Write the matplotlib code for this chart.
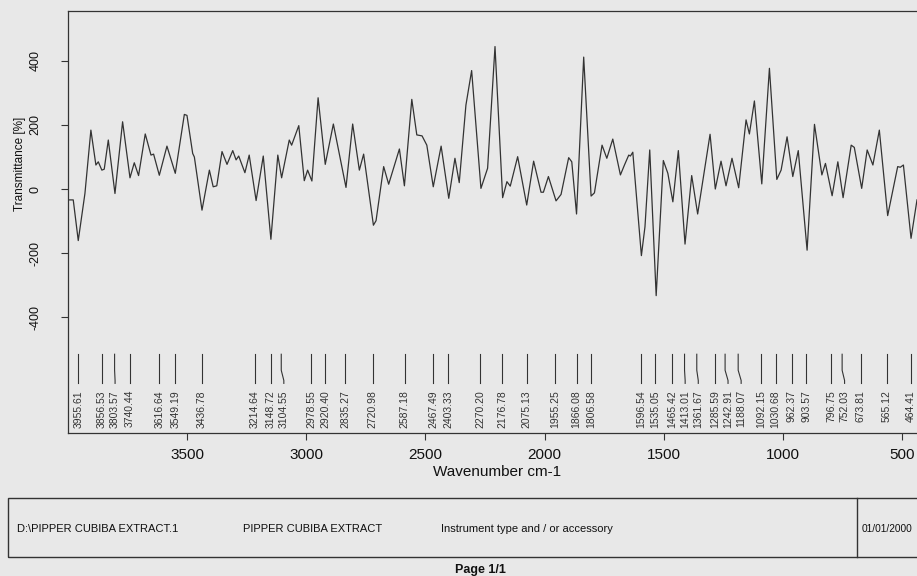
import matplotlib
matplotlib.use('Agg')
import matplotlib.pyplot as plt
from matplotlib.patches import Rectangle

plt.rcParams['font.family'] = ['Liberation Sans', 'DejaVu Sans']

# espectro (numero de onda, transmitancia)
wavenumber = [4000, 3977, 3956, 3940, 3928, 3903, 3882, 3872, 3857, 3847,
              3830, 3802, 3770, 3739, 3721, 3703, 3675, 3651, 3640, 3616,
              3584, 3549, 3511, 3500, 3476, 3469, 3437, 3406, 3390, 3375,
              3353, 3332, 3308, 3294, 3283, 3257, 3239, 3210, 3180, 3148,
              3119, 3103, 3071, 3061, 3031, 3008, 2994, 2976, 2950, 2920,
              2886, 2833, 2805, 2777, 2759, 2718, 2707, 2675, 2654, 2609,
              2588, 2557, 2536, 2514, 2494, 2467, 2434, 2402, 2376, 2358,
              2330, 2306, 2267, 2239, 2208, 2176, 2158, 2144, 2113, 2075,
              2046, 2015, 2005, 1984, 1952, 1931, 1899, 1886, 1866, 1836,
              1805, 1791, 1759, 1739, 1714, 1682, 1665, 1647, 1640, 1630,
              1594, 1579, 1559, 1532, 1502, 1483, 1462, 1439, 1411, 1383,
              1358, 1306, 1284, 1260, 1239, 1214, 1186, 1155, 1141, 1120,
              1089, 1057, 1026, 1008, 983, 959, 936, 899, 868, 837,
              822, 794, 770, 748, 714, 701, 670, 647, 623, 596,
              561, 519, 508, 495, 463, 438]
transmittance = [-34, -34, -161, -76, -14, 184, 75, 85, 59, 62,
                 153, -14, 210, 35, 82, 42, 172, 106, 109, 43,
                 134, 49, 233, 230, 111, 100, -66, 59, 7, 10,
                 117, 77, 120, 91, 103, 51, 106, -36, 103, -157,
                 106, 35, 153, 137, 198, 26, 59, 25, 285, 77,
                 203, 5, 203, 59, 109, -113, -99, 70, 15, 125,
                 10, 280, 169, 166, 137, 7, 134, -29, 96, 20,
                 262, 370, 2, 65, 445, -27, 23, 9, 101, -50,
                 87, -10, -10, 39, -37, -17, 98, 85, -78, 412,
                 -22, -12, 137, 96, 156, 44, 75, 106, 103, 115,
                 -208, -118, 122, -333, 89, 49, -40, 120, -172, 42,
                 -78, 171, 0, 87, 10, 96, 4, 216, 172, 275,
                 16, 377, 30, 59, 163, 39, 120, -191, 202, 44,
                 80, -21, 85, -27, 137, 130, 2, 122, 75, 184,
                 -83, 70, 68, 75, -154, -34]

# picos marcados
peaks = [3955.61, 3856.53, 3803.57, 3740.44, 3616.64, 3549.19, 3436.78,
         3214.64, 3148.72, 3104.55, 2978.55, 2920.40, 2835.27, 2720.98,
         2587.18, 2467.49, 2403.33, 2270.20, 2176.78, 2075.13, 1955.25,
         1866.08, 1806.58, 1596.54, 1535.05, 1465.42, 1413.01, 1361.67,
         1285.59, 1242.91, 1188.07, 1092.15, 1030.68, 962.37, 903.57,
         796.75, 752.03, 673.81, 565.12, 464.41]

footer_texts = ['D:\\PIPPER CUBIBA EXTRACT.1', 'PIPPER CUBIBA EXTRACT',
                'Instrument type and / or accessory']
footer_date = '01/01/2000'

W, H = 917, 576
bg = '#e8e8e8'
ink = '#333333'

fig = plt.figure(figsize=(W / 100, H / 100), dpi=100, facecolor=bg)
ax = fig.add_axes([68 / W, 1 - 433 / H, (917 - 68) / W, (433 - 11) / H])
ax.set_facecolor(bg)

ax.plot(wavenumber, transmittance, color=ink, lw=0.9)

# lineas y etiquetas de picos (separacion minima para que no se pisen)
min_gap = 55
label_pos = []
for p in peaks:
    if label_pos and label_pos[-1] - p < min_gap:
        label_pos.append(label_pos[-1] - min_gap)
    else:
        label_pos.append(p)

for p, lp in zip(peaks, label_pos):
    ax.plot([p, p, lp, lp], [-516, -566, -598, -607], color=ink, lw=0.8)
    ax.text(lp, -628, '%.2f' % p, rotation=90, ha='center', va='top',
            fontsize=7.5, color=ink,
            family=['Liberation Sans Narrow', 'Liberation Sans'])

ax.set_xlim(3999, 438)
ax.set_ylim(-762, 556)
ax.set_xticks([3500, 3000, 2500, 2000, 1500, 1000, 500])
ax.set_yticks([-400, -200, 0, 200, 400])
ax.set_yticklabels(['-400', '-200', '0', '200', '400'], rotation=90, va='center')
ax.tick_params(axis='x', direction='out', length=5, width=0.8, color=ink,
               labelsize=11, pad=6, labelcolor='#111111')
ax.tick_params(axis='y', direction='out', length=5, width=0.8, color=ink,
               labelsize=9, pad=14, labelcolor='#111111')
ax.spines['right'].set_visible(False)
for s in ['left', 'bottom', 'top']:
    ax.spines[s].set_color(ink)
    ax.spines[s].set_linewidth(0.9)

fig.text(20 / W, 1 - 164 / H, 'Transmittance [%]', rotation=90,
         ha='center', va='center', fontsize=8.5, color='#111111')
fig.text(497 / W, 1 - 472 / H, 'Wavenumber cm-1', ha='center', va='center',
         fontsize=11, color='#111111')

# recuadro inferior
fig.add_artist(Rectangle((8 / W, 1 - 557 / H), (940 - 8) / W, 59 / H,
                         transform=fig.transFigure, fill=False,
                         edgecolor=ink, lw=1.0))
fig.add_artist(plt.Line2D([857 / W, 857 / W], [1 - 557 / H, 1 - 498 / H],
                          transform=fig.transFigure, color=ink, lw=1.0))
for x, t in zip([17, 243, 441], footer_texts):
    fig.text(x / W, 1 - 529 / H, t, ha='left', va='center', fontsize=8,
             color='#111111')
fig.text(862 / W, 1 - 529 / H, footer_date, ha='left', va='center',
         fontsize=7.3, color='#111111')
fig.text(480 / W, 1 - 563.5 / H, 'Page 1/1', ha='center', va='top',
         fontsize=9, fontweight='bold', color='#111111')

fig.savefig('out.png', dpi=100, facecolor=bg)
